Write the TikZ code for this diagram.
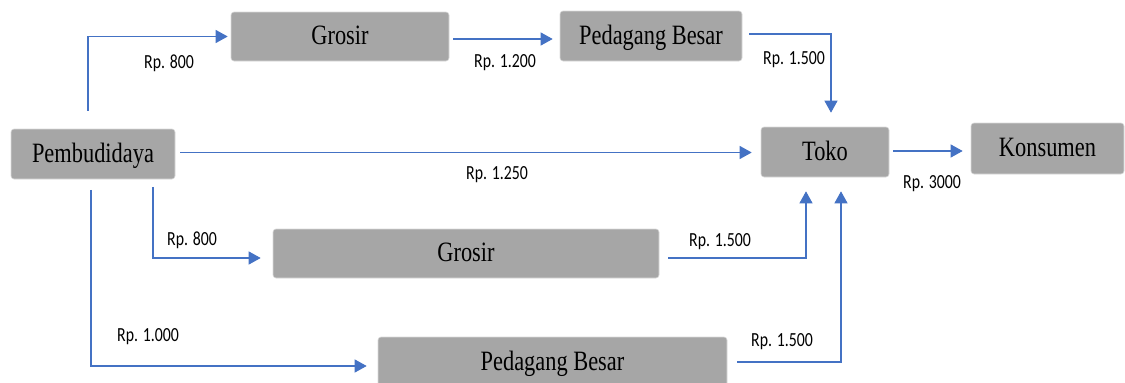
\documentclass[tikz,border=0pt]{standalone}
\usepackage{fontspec}
\newfontfamily\boxfont{Liberation Serif}[FakeStretch=0.8]
\newfontfamily\lblfont{Carlito}[FakeStretch=0.79]
\definecolor{chainBlue}{RGB}{68,114,196}
\definecolor{chainGray}{RGB}{166,166,166}
\usetikzlibrary{arrows.meta,calc,positioning}
\tikzset{
	chainbox/.style={fill=chainGray,draw=gray!30,line width=.6pt,rounded corners=3pt,inner sep=0pt,text height=19pt,text depth=3pt,font=\boxfont\fontsize{28}{30}\selectfont},
	flow/.style={draw=chainBlue,line width=1.2pt,-{Triangle[length=12pt,width=13pt]}},
	price/.style={anchor=base,inner sep=0pt,font=\lblfont\fontsize{20}{22}\selectfont},
}

\begin{document}
\begin{tikzpicture}[x=1pt,y=-1pt]
	\useasboundingbox (0,0) rectangle (1125,383);
	\node [chainbox,minimum width=164pt,minimum height=50pt] (farm) at(93,154){Pembudidaya};
	\node [chainbox,minimum width=218pt,minimum height=49pt] (grosA) at(340,36.5){Grosir};
	\node [chainbox,minimum width=182pt,minimum height=50pt] (pbA) at(651,36){Pedagang Besar};
	\node [chainbox,minimum width=128pt,minimum height=50pt] (toko) at(825,152){Toko};
	\node [chainbox,minimum width=153pt,minimum height=51pt] (kons) at(1047.5,148.5){Konsumen};
	\node [chainbox,minimum width=386pt,minimum height=49pt] (grosB) at(466,253.5){Grosir};
	\node [chainbox,minimum width=349pt,minimum height=50pt] (pbB) at(552.5,362){Pedagang Besar};
	% upper chain
	\draw [flow,shorten <=18pt,shorten >=3pt] ($(farm.north)+(-5,0)$) |- (grosA.west);
	\draw [flow,shorten <=4pt,shorten >=7pt] ($(grosA.east)+(0,2.5)$) -- ($(pbA.west)+(0,3)$);
	\draw [flow,shorten <=7pt,shorten >=14pt] ($(pbA.east)+(0,-2)$) -| ($(toko.north)+(6,0)$);
	% direct and to consumer
	\coordinate (dirOut) at ($(farm.east)+(0,-1.5)$);
	\coordinate (konsOut) at ($(toko.east)+(0,-1)$);
	\draw [flow,shorten <=5pt,shorten >=9pt] (dirOut) -- (dirOut -| toko.west);
	\draw [flow,shorten <=4pt,shorten >=8pt] (konsOut) -- (konsOut -| kons.west);
	% lower chains
	\draw [flow,shorten <=7.5pt,shorten >=12pt] ($(farm.south)+(60,0)$) |- ($(grosB.west)+(0,4.5)$);
	\draw [flow,shorten <=10.5pt,shorten >=11pt] ($(farm.south)+(-2,0)$) |- ($(pbB.west)+(0,4)$);
	\draw [flow,shorten <=9pt,shorten >=14pt] ($(grosB.east)+(0,4.5)$) -| ($(toko.south)+(-19,0)$);
	\draw [flow,shorten <=10pt,shorten >=14pt] (pbB.east) -| ($(toko.south)+(16,0)$);
	% prices
	\node [price] (lblGrosA) at(169,68.3){Rp. 800};
	\node [price] (lblPbA) at(505,67.7){Rp. 1.200};
	\node [price] (lblTokoA) at(794,64.3){Rp. 1.500};
	\node [price] (lblDirect) at(497,179){Rp. 1.250};
	\node [price] (lblKons) at(932,188.3){Rp. 3000};
	\node [price] (lblGrosB) at(192,245){Rp. 800};
	\node [price] (lblTokoB) at(720,246){Rp. 1.500};
	\node [price] (lblPbB) at(148,341){Rp. 1.000};
	\node [price] (lblTokoC) at(782,346){Rp. 1.500};
\end{tikzpicture}
\end{document}
